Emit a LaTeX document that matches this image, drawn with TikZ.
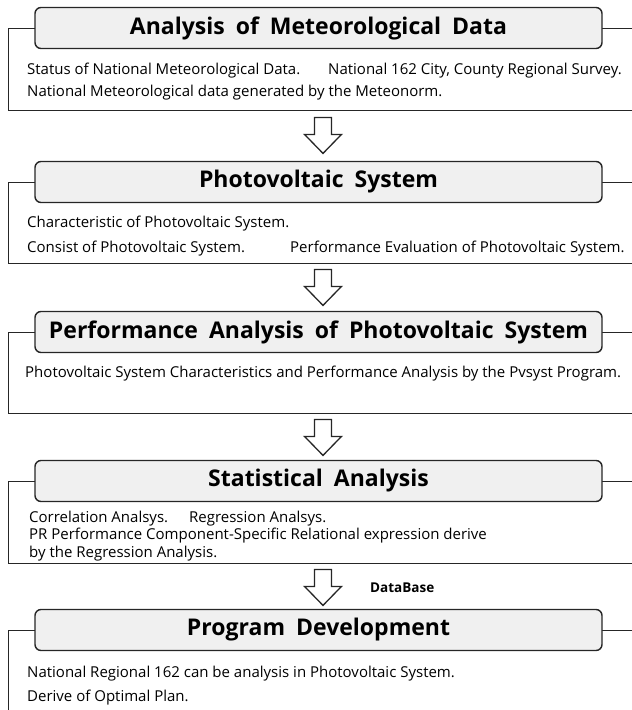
\documentclass[tikz,border=0pt]{standalone}
\usepackage{fontspec}
\setmainfont{Open Sans}
\usetikzlibrary{positioning,calc}

% hollow block arrow, hung from its top mid point
\newcommand{\hollowArrow}[1]{%
  \draw[arrowShape] (#1) ++(-8.5,0) -- ++(17,0) -- ++(0,17) -- ++(10,0)
    -- ++(-18.5,19) -- ++(-18.5,-19) -- ++(10,0) -- cycle;}
% wide word gaps of the headings
\newcommand{\wideGaps}{\spaceskip=11pt\relax}

\begin{document}
\begin{tikzpicture}[
            x=1pt, y=-1pt,
            frameBox/.style={rectangle, draw=black!85, line width=1.4pt,
            minimum width=700pt, anchor=north west, inner sep=0pt},
            headBox/.style={rectangle, rounded corners=6pt, draw=black!85, fill=black!6,
            line width=1.4pt, minimum width=567pt, minimum height=41pt,
            font=\fontsize{23}{27}\selectfont\bfseries\wideGaps},
            itemText/.style={anchor=base west, inner sep=0pt,
            font=\fontsize{15}{18}\selectfont},
            arrowShape/.style={draw=black!85, fill=white, line width=1.3pt, line join=miter},
        ]
        \useasboundingbox (0,0) rectangle (632,710);
        % meteorological data
        \node[frameBox, minimum height=82pt] (meteoFrame) at (8,28) {};
        \node[headBox] (meteoHead) at (318.5,28) {Analysis of Meteorological Data};
        \node[itemText] (meteoA) at (27,74) {Status of National Meteorological Data.};
        \node[itemText] (meteoB) at (328,74) {National 162 City, County Regional Survey.};
        \node[itemText] (meteoC) at (27,96) {National Meteorological data generated by the Meteonorm.};
        \path (meteoFrame.south west) ++(315,6) coordinate (arrowA);
        \hollowArrow{arrowA}
        % photovoltaic system
        \node[frameBox, minimum height=81pt] (pvFrame) at (8,182) {};
        \node[headBox] (pvHead) at (318.5,182) {Photovoltaic System};
        \node[itemText] (pvA) at (27,227) {Characteristic of Photovoltaic System.};
        \node[itemText] (pvB) at (27,252) {Consist of Photovoltaic System.};
        \node[itemText] (pvC) at (290,252) {Performance Evaluation of Photovoltaic System.};
        \path (pvFrame.south west) ++(315,5) coordinate (arrowB);
        \hollowArrow{arrowB}
        % performance analysis
        \node[frameBox, minimum height=81pt] (perfFrame) at (8,332) {};
        \node[headBox] (perfHead) at (318.5,332) {Performance Analysis of Photovoltaic System};
        \node[itemText] (perfA) at (25,377) {Photovoltaic System Characteristics and Performance Analysis by the Pvsyst Program.};
        \path (perfFrame.south west) ++(315,5) coordinate (arrowC);
        \hollowArrow{arrowC}
        % statistical analysis
        \node[frameBox, minimum height=82pt] (statFrame) at (8,481) {};
        \node[headBox] (statHead) at (318.5,481) {Statistical Analysis};
        \node[itemText] (statA) at (29,522) {Correlation Analsys.};
        \node[itemText] (statB) at (189,522) {Regression Analsys.};
        \node[itemText] (statC) at (29,539) {PR Performance Component-Specific Relational expression derive};
        \node[itemText] (statD) at (29,557) {by the Regression Analysis.};
        \path (statFrame.south west) ++(315,5) coordinate (arrowD);
        \hollowArrow{arrowD}
        \node[itemText, font=\fontsize{13.5}{15}\selectfont\bfseries] (dataBase) at (370,592) {DataBase};
        % program development
        \node[frameBox, minimum height=100pt] (progFrame) at (8,630) {};
        \node[headBox] (progHead) at (318.5,630) {Program Development};
        \node[itemText] (progA) at (27,677) {National Regional 162 can be analysis in Photovoltaic System.};
        \node[itemText] (progB) at (27,701) {Derive of Optimal Plan.};
    \end{tikzpicture}
\end{document}
